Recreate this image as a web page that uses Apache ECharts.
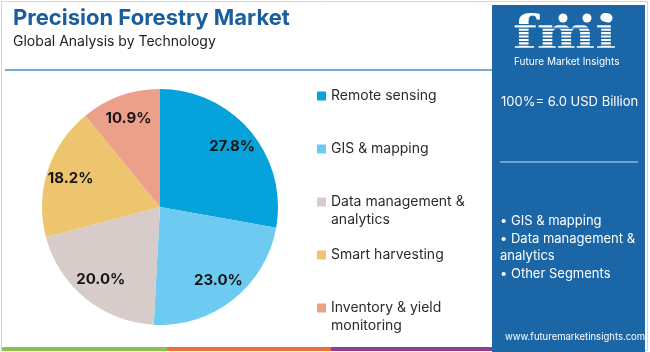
<!DOCTYPE html>
<html>
<head>
<meta charset="utf-8">
<script src="https://cdn.jsdelivr.net/npm/echarts@6/dist/echarts.min.js"></script>
<style>
  html, body { margin: 0; padding: 0; background: #fff; }
  #main { width: 650px; height: 352px; }
</style>
</head>
<body>
<div id="main"></div>
<script>
// data
var segments = ['Remote sensing', 'GIS & mapping', 'Data management & analytics', 'Smart harvesting', 'Inventory & yield monitoring'];
var shares = [27.8, 23.0, 20.0, 18.2, 10.9];
var colors = ['#05a2dc', '#6dcbf1', '#d7ccca', '#ecc56e', '#eca08a'];
var legendLabels = ['Remote sensing', 'GIS & mapping', 'Data management &\nanalytics', 'Smart harvesting', 'Inventory & yield\nmonitoring'];
var bulletItems = ['• GIS & mapping', '• Data management &', 'analytics', '• Other Segments'];
var totalText = '100%= 6.0 USD Billion';

var font = 'Inter';
var panelBlue = '#1b66a6';

var myChart = echarts.init(document.getElementById('main'));

var pieData = [];
for (var i = 0; i < segments.length; i++) {
	pieData.push({ name: segments[i], value: shares[i], itemStyle: { color: colors[i] } });
}

// one legend per item so the rows keep an even step;
// two-line items get a tall icon box (square on top, tiny dot at bottom)
// so the square lines up with the first text line
var legendTops = [87, 140, 193, 246, 299];
var legends = [];
for (var j = 0; j < segments.length; j++) {
	var twoLines = legendLabels[j].indexOf('\n') >= 0;
	legends.push({
		data: [{ name: segments[j], icon: twoLines ? 'path://M0,0h9v9h-9z M0,27h0.1v0.1h-0.1z' : 'rect' }],
		left: 317,
		top: legendTops[j],
		itemWidth: 9,
		itemHeight: twoLines ? 27.1 : 9,
		itemGap: 0,
		padding: 0,
		selectedMode: false,
		formatter: (function (k) { return function () { return legendLabels[k]; }; })(j),
		textStyle: {
			fontFamily: font,
			fontSize: 14,
			color: '#2b2b2b',
			lineHeight: 18
		}
	});
}

var bulletTexts = [];
var bulletTops = [215, 233, 250, 268];
for (var b = 0; b < bulletItems.length; b++) {
	bulletTexts.push({
		type: 'text', left: 500, top: bulletTops[b],
		style: { text: bulletItems[b], fill: '#fff', font: '13px ' + font }
	});
}

// striped look across the logo letters
var stripes = [];
for (var s = 0; s < 8; s++) {
	stripes.push({
		type: 'rect', shape: { x: 508, y: 24 + s * 3.4, width: 115, height: 1.3 },
		style: { fill: panelBlue }
	});
}

option = {
	backgroundColor: '#fff',
	animation: false,
	title: {
		text: 'Precision Forestry Market',
		subtext: 'Global Analysis by Technology',
		left: 8,
		top: 2,
		itemGap: 6,
		textStyle: { fontFamily: font, fontSize: 22, fontWeight: 'bold', color: '#1a5e9b' },
		subtextStyle: { fontFamily: font, fontSize: 14, color: '#222' }
	},
	legend: legends,
	graphic: [
		// outer frame
		{ type: 'rect', shape: { x: 1.5, y: 1.5, width: 646, height: 349 }, style: { fill: 'none', stroke: '#d4d4d4', lineWidth: 1 }, z: -10 },
		// rule under subtitle
		{ type: 'line', shape: { x1: 5, y1: 70, x2: 492, y2: 70 }, style: { stroke: '#4a8ec8', lineWidth: 1.5 } },
		// bottom colour stripe
		{ type: 'rect', shape: { x: 2, y: 347, width: 165, height: 4 }, style: { fill: '#8cc152' } },
		{ type: 'rect', shape: { x: 167, y: 347, width: 164, height: 4 }, style: { fill: '#e8713b' } },
		{ type: 'rect', shape: { x: 331, y: 347, width: 163, height: 4 }, style: { fill: '#8e3d92' } },
		// right panel
		{ type: 'rect', shape: { x: 492, y: 5, width: 153, height: 347 }, style: { fill: panelBlue } },
		{ type: 'text', x: 513, y: 14, scaleX: 1.2, style: { text: 'fmi', fill: '#fff', font: 'bold 46px "DejaVu Serif"' } },
		{ type: 'group', children: stripes },
		{ type: 'circle', shape: { cx: 563, cy: 18, r: 4.5 }, style: { fill: '#fff' } },
		{ type: 'circle', shape: { cx: 587, cy: 18, r: 4.5 }, style: { fill: '#fff' } },
		{ type: 'circle', shape: { cx: 608, cy: 18, r: 4.5 }, style: { fill: '#fff' } },
		{ type: 'text', left: 514, top: 57, style: { text: 'Future Market Insights', fill: '#fff', font: '10px ' + font } },
		{ type: 'text', left: 501, top: 96, style: { text: totalText, fill: '#fff', font: '13px ' + font } },
		{ type: 'line', shape: { x1: 500, y1: 162, x2: 638, y2: 162 }, style: { stroke: '#8fb6dc', lineWidth: 1.5 } },
		{ type: 'group', children: bulletTexts },
		{ type: 'text', left: 505, top: 332, style: { text: 'www.futuremarketinsights.com', fill: '#fff', font: '9.5px ' + font } }
	],
	series: [{
		name: 'Technology',
		type: 'pie',
		center: [160, 207],
		radius: 118,
		startAngle: 90,
		clockwise: true,
		label: { show: false },
		labelLine: { show: false },
		emphasis: { disabled: true },
		data: pieData
	}, {
		// transparent ring, only carries the labels further out
		name: 'Labels',
		type: 'pie',
		center: [160, 207],
		radius: [64, 118],
		startAngle: 90,
		clockwise: true,
		silent: true,
		itemStyle: { color: 'rgba(0,0,0,0)' },
		label: {
			show: true,
			position: 'inside',
			fontFamily: font,
			fontSize: 15,
			fontWeight: 'bold',
			color: '#151515',
			formatter: function (p) { return p.value.toFixed(1) + '%'; }
		},
		labelLine: { show: false },
		data: segments.map(function (n, i) { return { name: n, value: shares[i] }; })
	}]
};
myChart.setOption(option);
</script>
</body>
</html>
